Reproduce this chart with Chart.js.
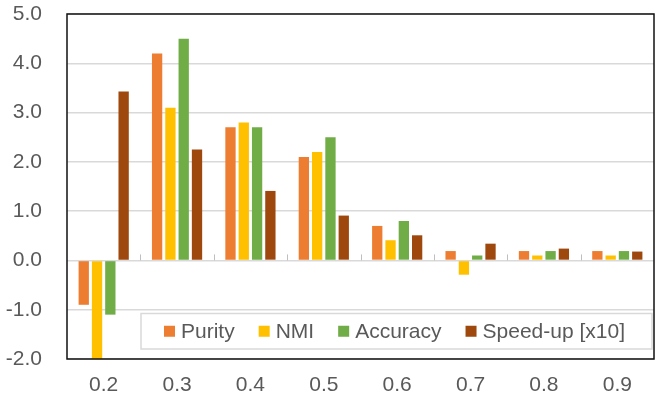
<!DOCTYPE html>
<html>
<head>
<meta charset="utf-8">
<script src="https://cdn.jsdelivr.net/npm/chart.js@4"></script>
<style>
  html, body { margin: 0; padding: 0; background: #fff; }
  #wrap { width: 664px; height: 398px; }
</style>
</head>
<body>
<div id="wrap"><canvas id="grafico" width="664" height="398"></canvas></div>
<script>
// dados
const categorias = ["0.2", "0.3", "0.4", "0.5", "0.6", "0.7", "0.8", "0.9"];
const purity   = [-0.9, 4.2, 2.7, 2.1, 0.7, 0.19, 0.19, 0.19];
const nmi      = [-2.0, 3.1, 2.8, 2.2, 0.41, -0.29, 0.1, 0.1];
const accuracy = [-1.1, 4.5, 2.7, 2.5, 0.8, 0.1, 0.19, 0.19];
const speedup  = [3.43, 2.25, 1.41, 0.91, 0.51, 0.34, 0.24, 0.18];

const nomes = ["Purity", "NMI", "Accuracy", "Speed-up [x10]"];
const cores = ["#ED7D31", "#FFC000", "#70AD47", "#9E480E"];

const fonte = "'Liberation Sans', Arial, sans-serif";
const cinzaTexto = "#595959";

// moldura, marcas no eixo zero e legenda dentro da area
const extras = {
    id: "extras",
    afterDatasetsDraw(chart) {
        const { ctx, chartArea: a, scales } = chart;
        const y0 = scales.y.getPixelForValue(0);
        const larg = (a.right - a.left) / categorias.length;

        ctx.save();
        ctx.strokeStyle = "#bfbfbf";
        ctx.lineWidth = 1;
        for (let i = 1; i < categorias.length; i++) {
            const x = Math.round(a.left + i * larg) + 0.5;
            ctx.beginPath();
            ctx.moveTo(x, y0 - 6);
            ctx.lineTo(x, y0);
            ctx.stroke();
        }

        // legenda
        const lx = a.left + 74, ly = a.bottom - 45.5, lw = a.right - 2 - lx, lh = 35.5;
        ctx.fillStyle = "#fff";
        ctx.fillRect(lx, ly, lw, lh);
        ctx.strokeStyle = "#d9d9d9";
        ctx.lineWidth = 1.5;
        ctx.strokeRect(lx, ly, lw, lh);

        ctx.font = "21px " + fonte;
        ctx.textBaseline = "middle";
        const cy = ly + lh / 2;
        let x = lx + 23;
        chart.data.datasets.forEach(ds => {
            ctx.fillStyle = ds.backgroundColor;
            ctx.fillRect(x, cy - 5.5, 11, 11);
            x += 17;
            ctx.fillStyle = cinzaTexto;
            ctx.fillText(ds.label, x, cy + 1);
            x += ctx.measureText(ds.label).width + 24;
        });

        // moldura
        ctx.strokeStyle = "#111";
        ctx.lineWidth = 1.5;
        ctx.strokeRect(a.left, a.top, a.right - a.left, a.bottom - a.top);
        ctx.restore();
    }
};

const ctx = document.getElementById("grafico").getContext("2d");

new Chart(ctx, {
    type: "bar",
    data: {
        labels: categorias,
        datasets: [purity, nmi, accuracy, speedup].map((valores, i) => ({
            label: nomes[i],
            data: valores,
            backgroundColor: cores[i],
            borderWidth: 0,
            categoryPercentage: 0.725,
            barPercentage: 0.775
        }))
    },
    options: {
        responsive: false,
        animation: false,
        layout: { padding: { top: 14, right: 10, left: 0, bottom: 0 } },
        plugins: {
            legend: { display: false },
            tooltip: { enabled: false }
        },
        scales: {
            x: {
                grid: { display: false, drawTicks: false },
                border: { display: false },
                ticks: { color: cinzaTexto, font: { family: fonte, size: 21 }, padding: 14, maxRotation: 0 },
                afterFit(scale) {
                    scale.height = 39;
                    scale.paddingLeft = 0;
                    scale.paddingRight = 0;
                }
            },
            y: {
                min: -2,
                max: 5,
                grid: { color: "#d9d9d9", lineWidth: 1.5, drawTicks: false },
                border: { display: false },
                ticks: {
                    stepSize: 1,
                    color: cinzaTexto,
                    font: { family: fonte, size: 21 },
                    padding: 25,
                    callback: v => v.toFixed(1)
                },
                afterFit(scale) {
                    scale.width = 67;
                    scale.paddingTop = 0;
                    scale.paddingBottom = 0;
                }
            }
        }
    },
    plugins: [extras]
});
</script>
</body>
</html>
